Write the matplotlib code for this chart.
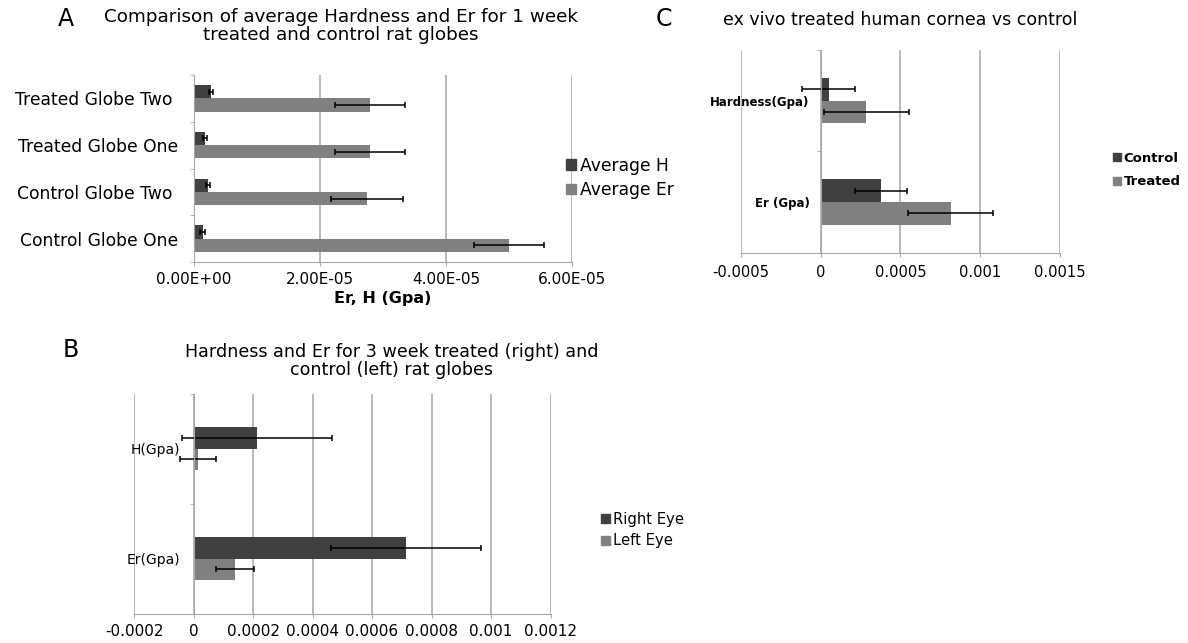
import numpy as np
import matplotlib
matplotlib.use('agg')
import matplotlib.pyplot as plt
from matplotlib.patches import Patch

W, H = 1188, 643
DARK = '#404040'
LIGHT = '#808080'
GRID = '#a6a6a6'
LETTER_FONT = ['Liberation Sans Narrow', 'DejaVu Sans']

# panel A - 1 week rat globes
a_groups = ['Control Globe One', 'Control Globe Two ', 'Treated Globe One', 'Treated Globe Two ']
a_h = [1.38e-6, 2.2e-6, 1.8e-6, 2.76e-6]
a_h_err = [3.5e-7, 3.5e-7, 3.0e-7, 3.0e-7]
a_er = [5.0e-5, 2.745e-5, 2.80e-5, 2.79e-5]
a_er_err = [5.55e-6, 5.65e-6, 5.55e-6, 5.55e-6]
a_ticks = [0, 2e-5, 4e-5, 6e-5]
a_tick_labels = ['0.00E+00', '2.00E-05', '4.00E-05', '6.00E-05']

# panel B - 3 week rat globes
b_groups = ['Er(Gpa)', 'H(Gpa)']
b_right = [7.14e-4, 2.13e-4]
b_right_err = [2.51e-4, 2.53e-4]
b_left = [1.40e-4, 1.5e-5]
b_left_err = [6.3e-5, 6.2e-5]
b_ticks = [-0.0002, 0, 0.0002, 0.0004, 0.0006, 0.0008, 0.001, 0.0012]
b_tick_labels = ['-0.0002', '0', '0.0002', '0.0004', '0.0006', '0.0008', '0.001', '0.0012']

# panel C - ex vivo human cornea
c_groups = ['Er (Gpa)', 'Hardness(Gpa)']
c_control = [3.77e-4, 5.0e-5]
c_control_err = [1.63e-4, 1.63e-4]
c_treated = [8.15e-4, 2.87e-4]
c_treated_err = [2.64e-4, 2.65e-4]
c_ticks = [-0.0005, 0, 0.0005, 0.001, 0.0015]
c_tick_labels = ['-0.0005', '0', '0.0005', '0.001', '0.0015']

fig = plt.figure(figsize=(W / 100, H / 100), dpi=100)


def px_axes(left, top, right, bottom):
    return fig.add_axes([left / W, 1 - bottom / H, (right - left) / W, (bottom - top) / H])


def draw_panel(ax, groups, top_vals, top_err, bot_vals, bot_err, bh, ticks, tick_labels,
               ysize, ybold, ypad, xsize, xpad):
    y = np.arange(len(groups))
    ekw = dict(ecolor='black', elinewidth=1.1, capsize=2, capthick=1.1)
    ax.barh(y + bh / 2, top_vals, height=bh, color=DARK, xerr=top_err, error_kw=ekw, zorder=2)
    ax.barh(y - bh / 2, bot_vals, height=bh, color=LIGHT, xerr=bot_err, error_kw=ekw, zorder=2)
    ax.set_ylim(-0.5, len(groups) - 0.5)
    ax.set_xlim(ticks[0], ticks[-1])
    ax.set_xticks(ticks, tick_labels, fontsize=xsize)
    ax.tick_params(axis='x', length=3, color=GRID, pad=xpad)
    ax.xaxis.grid(True, color=GRID, lw=1.1)
    ax.set_axisbelow(True)
    ax.spines['top'].set_visible(False)
    ax.spines['right'].set_visible(False)
    ax.spines['bottom'].set_color(GRID)
    ax.spines['left'].set_color(GRID)
    ax.spines['left'].set_position(('data', 0))
    ax.set_yticks(y, groups, fontsize=ysize, fontweight='bold' if ybold else 'normal')
    ax.set_yticks(np.arange(len(groups) + 1) - 0.5, minor=True)
    ax.tick_params(axis='y', which='major', length=0, pad=ypad)
    ax.tick_params(axis='y', which='minor', length=3, color=GRID)
    ax.patch.set_alpha(0)


def add_legend(ax, labels, x, y, size, bold, spacing):
    handles = [Patch(color=DARK), Patch(color=LIGHT)]
    leg = ax.legend(handles, labels, loc='center left', bbox_to_anchor=(x / W, 1 - y / H),
                    bbox_transform=fig.transFigure, frameon=False, borderpad=0, borderaxespad=0,
                    handlelength=0.6, handleheight=0.6, handletextpad=0.2, labelspacing=spacing,
                    prop=dict(size=size, weight='bold' if bold else 'normal'))
    return leg


# A
ax_a = px_axes(194, 75, 572, 262)
draw_panel(ax_a, a_groups, a_h, a_h_err, a_er, a_er_err, 0.285, a_ticks, a_tick_labels,
           12.3, False, 11.5, 11, 4)
add_legend(ax_a, ['Average H', 'Average Er'], 566, 178, 12.3, False, 0.36)
fig.text(383 / W, 1 - 298 / H, 'Er, H (Gpa)', ha='center', va='center', fontsize=11.5, fontweight='bold')
fig.text(341 / W, 1 - 26 / H, 'Comparison of average Hardness and Er for 1 week\ntreated and control rat globes',
         ha='center', va='center', fontsize=13.2, linespacing=1.05)
fig.text(66 / W, 1 - 18.5 / H, 'A', ha='center', va='center', fontsize=17, family=LETTER_FONT)

# B
ax_b = px_axes(134, 393.5, 550.5, 613.5)
draw_panel(ax_b, b_groups, b_right, b_right_err, b_left, b_left_err, 0.197, b_ticks, b_tick_labels,
           10, False, 9.5, 11, 4.5)
add_legend(ax_b, ['Right Eye', 'Left Eye'], 601, 530, 10.6, False, 0.46)
fig.text(392 / W, 1 - 361 / H, 'Hardness and Er for 3 week treated (right) and\ncontrol (left) rat globes',
         ha='center', va='center', fontsize=12.6, linespacing=1.05)
fig.text(70.5 / W, 1 - 350 / H, 'B', ha='center', va='center', fontsize=17, family=LETTER_FONT)

# C
ax_c = px_axes(740.7, 50, 1060, 252.7)
draw_panel(ax_c, c_groups, c_control, c_control_err, c_treated, c_treated_err, 0.225, c_ticks, c_tick_labels,
           8.5, True, 7.8, 10.6, 5.5)
add_legend(ax_c, ['Control', 'Treated'], 1113, 170, 9.5, True, 0.83)
fig.text(900 / W, 1 - 20 / H, 'ex vivo treated human cornea vs control', ha='center', va='center', fontsize=12.5)
fig.text(664 / W, 1 - 18.5 / H, 'C', ha='center', va='center', fontsize=17, family=LETTER_FONT)

fig.savefig('out.png', dpi=100)
